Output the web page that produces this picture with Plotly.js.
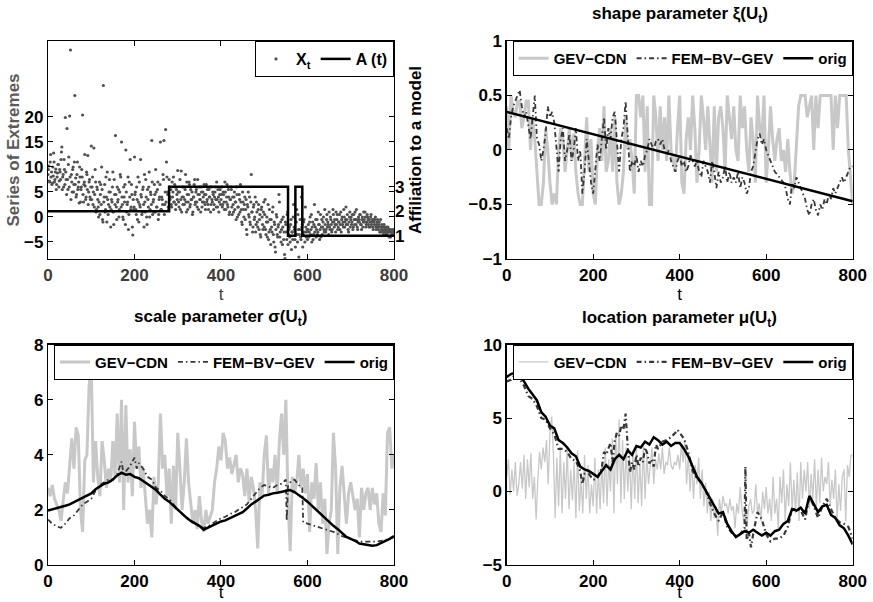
<!DOCTYPE html>
<html><head><meta charset="utf-8">
<script src="https://cdn.plot.ly/plotly-3.0.1.min.js"></script>
<style>html,body{margin:0;padding:0;background:#fff}#plot{width:873px;height:602px}</style>
</head><body><div id="plot"></div><script>
// ---------- data ----------
// series of extremes X_t at even t (0,2,...,798)
const xtEven = [
 8.5,10.2,7.0,12.5,9.0,6.8,8.2,11.0,7.5,9.6, 6.5,8.8,10.5,7.2,9.0,11.5,14.0,8.0,6.0,9.5, 19.9,7.5,17.7,5.5,12.0,20.2,33.4,8.5,5.0,10.0, 6.5,24.3,7.8,4.5,11.0,6.0,2.8,8.0,5.5,9.5, 20.4,3.0,7.0,6.2,4.0,8.5,12.3,5.0,7.5,3.5,
 14.2,6.0,2.5,13.8,4.5,7.0,1.5,5.5,2.0,3.0, 0.5,6.5,10.0,-0.5,26.3,4.0,1.0,8.0,-1.0,3.5, 2.5,7.5,5.0,1.5,3.0,9.0,-1.5,4.5,16.3,2.0, 6.0,3.5,0.0,5.0,8.0,15.0,2.5,-0.5,4.0,6.5, 13.4,1.0,3.0,-2.5,7.0,11.5,2.0,4.5,-3.6,1.5,
 12.0,5.0,0.5,3.5,8.0,-1.0,2.5,11.5,4.0,1.0, 6.0,-2.0,3.0,7.5,0.0,5.5,2.0,9.0,1.5,4.5, 15.3,0.5,3.5,6.5,1.0,5.0,2.0,7.0,0.5,4.0, 15.0,1.5,3.5,8.5,15.3,2.5,17.5,11.0,5.0,2.0, 7.5,3.5,5.5,2.0,4.0,8.0,3.0,6.0,2.5,4.5,
 9.3,3.0,5.0,1.5,9.2,4.0,2.5,6.0,3.5,8.5, 1.0,4.5,3.0,7.0,2.0,5.5,3.5,0.5,4.0,6.5, 2.5,5.0,3.0,7.5,1.5,4.5,3.5,6.0,2.0,5.0, 3.0,4.5,1.5,6.5,3.5,2.5,5.5,4.0,1.0,6.0, 3.0,4.5,2.5,5.0,3.5,7.0,2.0,4.0,3.0,5.5,
 3.5,6.0,2.5,4.5,1.5,5.0,3.0,6.5,2.0,4.0, 1.0,3.5,5.5,0.5,2.5,4.0,1.5,3.0,6.0,0.0, 2.0,4.5,1.0,3.0,-1.0,5.0,1.5,2.5,-0.5,3.5, -3.5,2.0,0.5,4.0,-1.5,8.5,1.0,-2.0,2.5,0.0, -3.0,3.0,-1.0,1.5,-2.5,0.5,-4.0,2.0,-1.5,1.0,
 -2.0,3.5,-3.5,0.0,-1.0,-4.5,1.5,-2.5,-0.5,-3.0, 2.0,-5.0,-1.5,-7.0,0.5,-3.5,-2.0,4.5,-4.0,-1.0, -2.5,-5.5,0.0,-3.0,-8.3,-1.5,-4.5,1.0,-3.5,-2.0, -5.0,-0.5,-3.0,-4.5,2.5,-2.5,-6.0,-1.0,-3.5,0.5, -8.0,-2.5,-4.0,4.0,-1.5,-3.5,-0.5,-5.0,-2.0,-3.0,
 -4.5,-1.5,-3.0,0.0,-2.5,-5.0,-1.0,-3.5,2.5,-2.0, -4.0,-0.5,-3.0,-1.5,-4.5,0.5,-2.0,-3.5,-1.0,-2.5, 1.5,-3.0,-0.5,-2.0,-1.5,1.0,-2.5,-0.5,-3.0,-1.0, 0.5,-2.0,-1.5,1.0,-0.5,-2.5,-1.0,0.5,-1.5,-3.0, 0.0,-1.0,1.5,-2.0,-0.5,-1.5,0.5,-2.5,-1.0,1.0,
 -0.5,-1.5,0.5,-2.0,-0.5,1.0,-1.5,-0.5,-2.5,0.0, -1.0,0.5,-1.5,-0.5,-2.0,1.0,-1.0,0.0,-1.5,0.5, -0.5,-2.0,-1.0,0.0,-1.5,-0.5,-2.5,-1.0,-0.5,-2.0, -1.5,-0.5,-2.5,-1.0,-2.0,-3.0,-1.5,-2.5,-3.5,-2.0, -3.0,-2.5,-3.5,-2.0,-3.0,-2.5,-4.0,-3.0,-3.5,-2.5
];
// series of extremes X_t at odd t (1,3,...,799)
const xtOdd = [
 9.5,7.2,11.0,8.0,6.5,10.0,12.8,7.0,9.0,5.5, 8.0,10.5,6.0,9.5,7.5,13.0,5.5,8.5,11.5,6.5, 9.0,4.5,7.5,10.5,6.0,8.0,3.5,7.0,9.5,5.0, 11.0,6.5,4.0,8.5,5.5,7.0,10.0,3.0,6.0,8.0, 4.5,6.5,12.5,3.5,9.0,5.5,2.5,7.0,4.0,6.0,
 3.5,8.0,5.0,2.0,9.5,1.0,6.0,3.5,0.0,7.0, 4.5,2.5,5.5,-1.0,3.0,6.5,1.5,4.0,9.0,0.5, 5.0,2.0,-2.0,3.5,6.0,1.0,7.5,2.5,4.5,-0.5, 3.0,5.5,1.5,8.5,2.0,4.0,0.0,6.0,3.0,-1.5, 5.0,2.5,8.0,0.5,4.0,1.5,6.5,-2.0,3.5,2.0,
 4.5,1.5,6.0,-0.5,3.0,7.0,2.0,4.5,0.5,5.5, 2.5,8.5,1.0,4.0,-1.5,3.5,6.0,0.0,5.0,2.5, 7.0,3.0,1.0,4.5,9.5,2.0,5.5,-0.5,3.5,6.5, 1.5,4.0,2.5,7.5,0.5,5.0,3.0,8.0,4.5,1.5, 6.0,4.0,2.5,7.0,5.0,3.0,6.5,1.5,5.5,3.5,
 5.0,2.0,7.5,3.5,1.0,6.0,4.0,2.5,5.5,3.0, 7.0,1.5,4.5,6.5,2.5,3.5,5.0,1.0,4.0,7.5, 3.0,5.5,2.0,4.5,6.0,3.5,1.0,5.0,3.0,4.0, 6.5,2.5,4.5,3.0,5.5,1.5,4.0,6.0,2.5,3.5, 5.0,1.5,4.0,6.0,2.0,3.5,5.5,1.0,4.5,2.5,
 4.5,2.0,5.0,3.0,7.0,1.5,4.0,2.5,5.5,0.5, 3.5,6.0,2.0,4.0,1.0,5.0,3.0,-0.5,4.5,2.0, 0.5,3.5,6.5,1.5,-1.5,3.0,0.0,4.0,1.5,-2.5, 2.5,5.0,0.0,-1.0,3.0,1.0,-3.0,2.0,-0.5,4.0, -1.5,1.0,-2.0,2.5,-0.5,-3.5,1.5,0.0,-2.5,3.0,
 0.5,-2.5,-1.0,-4.0,2.5,-3.0,-0.5,-5.5,-2.0,1.0, -3.5,-1.0,-6.0,-2.5,0.0,-4.0,-1.5,3.0,-3.0,-5.0, -0.5,-2.0,-4.5,-7.5,-1.0,-3.0,0.5,-5.5,-2.5,-4.0, -1.5,-6.5,-3.0,0.0,-2.0,-4.5,-3.5,1.5,-5.0,-2.5, -3.5,-0.5,-4.5,-2.0,-6.0,-1.0,-3.0,2.0,-4.0,-2.5,
 -2.5,-4.0,-1.0,-3.5,0.5,-2.0,-4.5,-1.5,-3.0,-0.5, -2.5,-3.5,1.0,-1.5,-2.5,-4.0,-0.5,-2.0,0.0,-3.0, -1.5,-2.5,0.5,-1.0,-3.5,-2.0,0.0,-1.5,-2.5,1.5, -1.0,-0.5,-3.0,-1.5,0.5,-2.0,-1.0,-2.5,1.0,-0.5, -1.5,-2.0,0.0,-1.0,2.0,-0.5,-1.5,-3.0,0.0,-2.0,
 0.0,-1.0,-2.5,0.5,-1.5,-0.5,1.5,-2.0,-1.0,-0.5, 0.5,-1.5,-2.5,0.0,-1.0,-0.5,1.0,-2.0,-1.0,0.0, -1.5,-0.5,-2.0,0.5,-1.0,-2.0,-0.5,-1.5,0.0,-2.5, -1.0,-2.0,-1.5,-3.0,-0.5,-2.5,-2.0,-3.0,-1.5,-2.5, -3.5,-2.0,-3.0,-2.5,-4.0,-3.0,-2.5,-3.5,-3.0,-3.5
];
// affiliation A(t): change points and model index
const affT = [0, 280, 555, 572, 588, 800];
const affV = [2, 3, 1, 3, 1, 1];

// shape parameter (t = 0,5,...,800)
const shapeCDN = [
 0.4,0.0,0.5,0.35,0.3,0.45,0.45,0.2,0.3,0.45, 0.45,0.0,0.3,0.1,-0.2,-0.5,-0.5,-0.3,0.2,0.0,
 -0.3,-0.5,-0.4,-0.5,0.0,0.2,0.1,-0.2,0.0,0.2, -0.1,0.15,-0.2,-0.4,-0.5,-0.5,-0.1,0.3,-0.2,0.1,
 -0.4,-0.5,0.0,0.2,-0.1,0.4,-0.2,-0.1,0.2,-0.2, 0.3,-0.3,-0.5,-0.4,-0.2,0.3,0.0,0.1,-0.1,-0.4,
 0.5,0.5,0.3,0.5,-0.2,0.4,-0.5,-0.5,0.5,0.3, -0.1,0.4,0.0,0.3,-0.1,0.5,0.0,-0.1,-0.2,0.2,
 0.5,-0.3,-0.4,0.1,0.3,0.0,0.5,0.2,-0.3,0.0, 0.5,0.3,0.0,0.4,0.0,-0.3,0.4,-0.2,0.3,0.4,
 0.2,-0.2,0.5,0.3,0.1,0.4,0.0,-0.1,0.5,0.2, 0.4,0.0,-0.2,0.3,0.1,-0.3,0.5,0.2,0.1,0.5,
 -0.3,0.0,0.4,0.1,-0.1,0.1,0.2,-0.1,0.0,-0.2, 0.1,-0.2,-0.4,-0.3,0.0,0.4,0.5,0.5,0.5,0.3,
 0.4,0.5,0.0,0.5,0.2,0.5,0.5,0.5,0.5,0.5, 0.5,0.0,0.5,0.2,0.5,0.5,0.5,0.5,0.0,-0.3,
 -0.5
];
const shapeFEM = [
 0.2,0.1,0.3,0.4,0.45,0.5,0.55,0.4,0.3,0.35, 0.2,0.1,0.3,0.5,0.1,0.05,-0.1,0.0,0.15,0.4,
 0.3,0.35,0.25,0.0,-0.2,0.1,0.2,-0.1,0.0,0.15, -0.1,0.0,0.2,-0.1,0.0,-0.4,-0.2,0.1,-0.1,-0.3,
 -0.4,-0.2,0.05,-0.1,0.1,0.3,0.0,0.2,0.1,0.3, 0.35,0.1,-0.2,0.1,0.2,0.45,0.1,-0.2,-0.1,-0.15,
 -0.05,-0.2,-0.1,-0.15,-0.05,0.0,0.1,0.05,0.0,0.08, 0.1,0.05,0.1,0.0,-0.05,0.0,-0.1,-0.15,-0.2,-0.1,
 -0.05,-0.15,-0.1,-0.2,-0.15,-0.05,-0.1,-0.15,-0.1,-0.2, -0.25,-0.1,-0.15,-0.2,-0.3,-0.1,-0.2,-0.35,-0.2,-0.3,
 -0.25,-0.15,-0.3,-0.2,-0.3,-0.25,-0.3,-0.2,-0.35,-0.25, -0.3,-0.4,-0.35,-0.2,-0.15,0.0,0.1,0.15,0.05,0.1,
 0.0,-0.05,-0.1,-0.15,-0.2,-0.22,-0.25,-0.28,-0.3,-0.35, -0.45,-0.5,-0.3,-0.35,-0.25,-0.3,-0.35,-0.4,-0.45,-0.55,
 -0.6,-0.5,-0.45,-0.55,-0.6,-0.5,-0.55,-0.45,-0.5,-0.4, -0.45,-0.35,-0.4,-0.35,-0.3,-0.25,-0.3,-0.25,-0.2,-0.15,
 -0.15
];
const shapeOrigT = [0, 800];
const shapeOrig = [0.35, -0.47];

// scale parameter
const scaleCDN = [ // t = 0,5,...,800
 2.8,2.5,2.9,2.4,2.2,2.0,1.6,2.4,3.0,2.6, 3.7,4.6,3.5,5.0,4.7,2.0,1.2,3.8,4.0,6.5,
 7.2,3.0,4.5,3.2,2.5,4.5,3.8,2.8,3.5,3.0, 4.5,3.2,5.5,3.0,6.0,2.0,5.8,3.0,4.2,2.5,
 5.2,3.5,4.3,2.8,3.5,2.5,1.5,2.0,1.0,3.2, 2.2,3.0,5.5,3.5,4.0,2.5,3.5,1.5,3.6,2.0,
 4.8,3.5,2.0,3.0,4.6,3.0,2.2,1.5,2.0,1.3, 2.5,1.6,1.2,2.0,1.5,1.8,2.0,3.0,3.5,4.3,
 3.8,4.8,4.5,3.5,3.9,3.3,3.6,4.0,3.0,3.5, 3.3,2.5,3.5,2.3,3.2,2.8,2.0,0.6,3.0,2.5,
 4.0,4.7,2.6,3.5,3.0,4.0,2.6,4.5,5.5,4.0, 6.0,2.3,0.5,3.2,2.6,3.0,4.0,2.8,3.5,2.6,
 3.3,1.2,3.0,2.4,3.7,2.0,3.0,1.5,2.4,0.4, 1.5,2.0,4.8,3.5,0.4,2.8,3.6,2.5,1.5,2.6,
 3.0,2.5,2.0,2.4,1.0,2.8,2.0,2.6,2.8,2.0, 2.8,2.2,2.6,1.5,1.2,2.6,1.8,4.8,5.0,3.5,
 4.0
];
const scaleFEMT = [0,10,20,30,40,50,60,70,80,90,100,110,120,130,140,150,160,170,175,180,190,200,205,210,220,230,240,250,260,270,280,290,300,310,320,330,340,350,360,370,380,390,400,410,420,430,440,450,460,470,480,490,500,510,520,530,540,550,552,555,560,570,580,588,590,600,620,640,660,680,700,720,740,760,780,800];
const scaleFEM = [1.65,1.5,1.4,1.35,1.5,1.7,1.8,2.0,2.2,2.3,2.4,2.7,2.9,3.0,3.1,3.1,3.3,3.75,3.3,3.4,3.6,3.9,3.5,3.7,3.5,3.2,3.1,2.8,2.7,2.5,2.4,2.2,2.0,1.85,1.7,1.6,1.5,1.4,1.35,1.4,1.5,1.6,1.7,1.75,1.85,1.9,2.0,2.1,2.2,2.4,2.6,2.8,2.9,2.85,2.8,2.9,2.95,3.1,1.6,2.9,3.0,3.1,2.9,2.8,1.55,1.5,1.4,1.3,1.2,1.05,0.95,0.85,0.85,0.85,0.9,1.0];
const scaleOrig = [ // t = 0,10,...,800
 1.98,2.02,2.05,2.1,2.15,2.2,2.28,2.35,2.45,2.5, 2.6,2.75,2.85,2.95,3.0,3.1,3.25,3.35,3.28,3.3,
 3.2,3.15,3.05,2.95,2.85,2.72,2.55,2.4,2.3,2.15, 2.0,1.85,1.72,1.6,1.5,1.42,1.28,1.35,1.42,1.5,
 1.58,1.62,1.7,1.78,1.85,1.92,2.05,2.2,2.3,2.42, 2.52,2.55,2.6,2.62,2.65,2.68,2.72,2.65,2.52,2.42,
 2.3,2.15,2.0,1.85,1.72,1.58,1.42,1.3,1.15,1.02, 0.95,0.88,0.78,0.75,0.72,0.7,0.72,0.8,0.85,0.95,
 1.05
];

// location parameter
const locCDN = [ // t = 0,4,...,800
 1.0,2.2,-0.2,1.5,0.0,2.0,-0.3,0.5,2.0,0.2, 2.5,-0.5,2.2,0.3,2.6,-0.5,1.0,-1.9,0.8,2.7, 1.5,3.0,2.0,3.5,0.5,
 4.0,5.1,2.6,-1.8,2.3,-1.0,3.0,-1.5,2.0,-0.5, 3.0,-1.2,1.5,-0.6,2.0,-1.8,2.8,-1.3,1.0,-1.5, 2.5,-0.5,1.8,-1.5,0.5,
 -1.0,2.3,-1.5,1.5,-1.2,2.0,-0.8,3.0,-1.0,2.2, 0.0,3.6,-1.5,4.0,0.5,4.9,-0.8,3.5,-0.5,3.0, 0.0,2.5,-1.2,2.8,-0.5,
 3.0,-0.8,2.0,-1.0,3.3,-0.5,2.5,0.5,1.8,3.0, 0.5,2.2,1.5,2.6,1.5,3.0,1.2,2.0,1.8,3.0, 1.8,1.5,2.0,1.8,2.5,
 1.5,3.3,2.0,3.5,0.5,2.5,0.0,2.0,-0.5,1.8, 0.5,2.3,-0.5,1.5,-1.0,0.6,-1.5,0.0,-2.0,-0.5, -1.8,-1.0,-3.0,-0.5,-1.5,
 -0.3,-1.0,-0.8,-1.5,-0.5,-1.3,-1.0,-2.5,-0.8,-1.5, 0.3,-1.2,-2.0,-1.0,-2.2,-1.0,-0.5,-1.5,-1.3,0.5, -1.5,-0.8,-2.0,0.0,-1.2,
 0.3,-1.5,-0.5,-2.0,1.0,-1.5,-0.5,-2.5,1.0,-0.8, 1.5,-2.0,0.5,-1.0,2.0,-1.2,0.8,-1.5,1.3,-2.0, 2.0,-0.5,1.5,0.0,2.0,
 -1.2,1.2,-0.5,2.2,-1.0,1.5,-0.8,2.3,0.0,1.0, 0.5,2.0,-1.0,0.8,-0.5,1.5,-2.0,0.5,-1.3,1.0, 1.5,-2.0,1.8,1.0,2.5,
 2.4
];
const locFEMT = [0,10,20,30,40,50,60,70,80,90,100,110,120,130,140,150,160,170,175,180,190,200,210,220,225,230,240,245,250,255,260,265,270,275,280,285,290,295,300,305,310,315,320,325,330,335,340,345,350,360,370,380,390,395,400,410,420,430,440,450,460,470,480,490,500,510,520,530,540,550,552,555,560,565,570,580,590,600,610,620,630,640,650,660,670,680,690,700,710,720,730,740,750,760,770,780,790,800];
const locFEM = [7.5,7.6,8.0,7.7,7.2,6.5,6.3,5.8,5.0,4.9,4.3,3.9,2.9,2.9,2.7,2.2,2.1,1.4,0.5,1.2,1.2,0.8,0.9,1.6,2.7,2.5,3.3,2.0,3.5,4.0,3.8,4.5,4.2,5.3,3.0,1.3,2.0,1.5,2.5,1.7,2.3,2.0,3.0,2.6,1.9,2.2,1.7,3.2,2.9,3.4,3.5,3.7,4.0,4.2,4.0,3.6,2.7,1.4,0.9,0.6,0.1,-0.8,-1.5,-2.0,-1.4,-2.4,-2.8,-3.0,-2.9,-2.5,1.7,-3.3,-2.8,-3.8,-2.9,-1.4,-1.9,-2.9,-3.4,-3.2,-3.2,-3.0,-2.4,-1.2,-1.2,-1.3,-1.9,-0.3,-1.0,-1.8,-1.0,-0.5,-1.2,-1.8,-2.1,-2.2,-2.4,-3.2];
const locOrig = [ // t = 0,10,...,800
 7.8,8.0,8.1,7.9,7.5,7.0,6.6,6.2,5.4,5.1, 4.5,4.3,3.5,3.3,3.0,2.6,2.4,1.7,1.5,1.4,
 1.2,1.0,1.4,1.8,1.5,2.2,2.5,2.2,2.8,2.5, 3.1,3.0,3.4,3.2,3.7,3.5,3.2,3.4,3.1,3.3,
 3.3,2.9,2.4,1.7,1.0,0.6,0.1,-0.4,-1.0,-1.5, -1.4,-2.2,-2.7,-3.1,-2.9,-2.7,-2.8,-2.6,-2.8,-3.0,
 -2.8,-3.0,-2.7,-2.6,-2.2,-2.0,-1.2,-1.3,-1.1,-1.5, -0.3,-0.8,-1.4,-1.0,-0.9,-1.6,-1.8,-2.3,-2.5,-3.0,
 -3.6
];
const xTicks = [0, 200, 400, 600, 800];

// ---------- helpers ----------
function idx(n, step, start){ const a=[]; for(let i=0;i<n;i++) a.push((start||0)+i*step); return a; }
const F = 'Liberation Sans, Arial, sans-serif';
const C_CDN = '#c8c8c8', C_FEM = '#383838', C_ORIG = '#000000';
const FEM_DASH = '5px,3px,1.5px,3px';

const dom = {
  xL:[0.0550,0.4513], xR:[0.5804,0.9767],
  yT:[0.5698,0.9319], yB:[0.0615,0.4275]
};

function xax(d, anchor, tickColor){
  return {domain:d, anchor:anchor, range:[0,800], tickvals:xTicks,
    showline:true, linecolor:'#000', linewidth:1.2, mirror:'ticks',
    ticks:'inside', ticklen:5, tickwidth:1, tickcolor:'#000',
    showgrid:false, zeroline:false, fixedrange:true, automargin:false,
    tickfont:{family:F,size:17,weight:'bold',color:tickColor||'#000'},
    title:{text:'t', font:{family:F,size:17,color:tickColor||'#000'}, standoff:0}};
}
function yax(d, anchor, range, tickvals){
  return {domain:d, anchor:anchor, range:range, tickvals:tickvals,
    showline:true, linecolor:'#000', linewidth:1.2, mirror:'ticks',
    ticks:'inside', ticklen:5, tickwidth:1, tickcolor:'#000',
    showgrid:false, zeroline:false, fixedrange:true, automargin:false,
    tickfont:{family:F,size:17,weight:'bold',color:'#000'}};
}
function leg(x, y, size){
  return {x:x, y:y, xref:'paper', yref:'paper', xanchor:'right', yanchor:'top',
    orientation:'h', bgcolor:'#fff', bordercolor:'#000', borderwidth:1,
    font:{family:F,size:size,weight:'bold',color:'#000'}, itemwidth:30,
    traceorder:'normal', tracegroupgap:0};
}

// ---------- traces ----------
const traces = [
  {x:idx(xtEven.length,2,0).concat(idx(xtOdd.length,2,1)), y:xtEven.concat(xtOdd), type:'scatter', mode:'markers', name:'X<sub>t</sub>',
   marker:{size:3.2, color:'#505050'}, xaxis:'x', yaxis:'y', legend:'legend'},
  {x:affT, y:affV, type:'scatter', mode:'lines', name:'A (t)', line:{shape:'hv', color:'#000', width:2.5},
   xaxis:'x', yaxis:'y2', legend:'legend'},

  {x:idx(shapeCDN.length,5), y:shapeCDN, type:'scatter', mode:'lines', name:'GEV\u2212CDN',
   line:{color:C_CDN, width:3}, xaxis:'x3', yaxis:'y3', legend:'legend2'},
  {x:idx(shapeFEM.length,5), y:shapeFEM, type:'scatter', mode:'lines', name:'FEM\u2212BV\u2212GEV',
   line:{color:C_FEM, width:1.8, dash:FEM_DASH}, xaxis:'x3', yaxis:'y3', legend:'legend2'},
  {x:shapeOrigT, y:shapeOrig, type:'scatter', mode:'lines', name:'orig',
   line:{color:C_ORIG, width:2.5}, xaxis:'x3', yaxis:'y3', legend:'legend2'},

  {x:idx(scaleCDN.length,5), y:scaleCDN, type:'scatter', mode:'lines', name:'GEV\u2212CDN',
   line:{color:C_CDN, width:3}, xaxis:'x4', yaxis:'y4', legend:'legend3'},
  {x:scaleFEMT, y:scaleFEM, type:'scatter', mode:'lines', name:'FEM\u2212BV\u2212GEV',
   line:{color:C_FEM, width:1.8, dash:FEM_DASH}, xaxis:'x4', yaxis:'y4', legend:'legend3'},
  {x:idx(scaleOrig.length,10), y:scaleOrig, type:'scatter', mode:'lines', name:'orig',
   line:{color:C_ORIG, width:2.5}, xaxis:'x4', yaxis:'y4', legend:'legend3'},

  {x:idx(locCDN.length,4), y:locCDN, type:'scatter', mode:'lines', name:'GEV\u2212CDN',
   line:{color:C_CDN, width:1.3}, xaxis:'x5', yaxis:'y5', legend:'legend4'},
  {x:locFEMT, y:locFEM, type:'scatter', mode:'lines', name:'FEM\u2212BV\u2212GEV',
   line:{color:C_FEM, width:2.2, dash:FEM_DASH}, xaxis:'x5', yaxis:'y5', legend:'legend4'},
  {x:idx(locOrig.length,10), y:locOrig, type:'scatter', mode:'lines', name:'orig',
   line:{color:C_ORIG, width:2.5}, xaxis:'x5', yaxis:'y5', legend:'legend4'}
];

// ---------- layout ----------
const yLeft = yax(dom.yT, 'x', [-8.4, 35.2], [-5,0,5,10,15,20]);
yLeft.title = {text:'Series of Extremes', font:{family:F,size:17,weight:'bold',color:'#5a5a5a'}, standoff:0};
const yRight = {overlaying:'y', side:'right', anchor:'x', range:[0.05,8.95], tickvals:[1,2,3],
  showline:false, ticks:'inside', ticklen:5, tickwidth:1, tickcolor:'#000',
  showgrid:false, zeroline:false, fixedrange:true, automargin:false,
  tickfont:{family:F,size:17,weight:'bold',color:'#000'},
  title:{text:'Affiliation to a model', font:{family:F,size:17,weight:'bold',color:'#000'}, standoff:5}};

const titleFont = {family:F, size:17, weight:'bold', color:'#000'};
const layout = {
  width:873, height:602, margin:{l:0,r:0,t:0,b:0},
  paper_bgcolor:'#fff', plot_bgcolor:'#fff', showlegend:true,
  xaxis: xax(dom.xL,'y','#3c3c3c'), yaxis: yLeft, yaxis2: yRight,
  xaxis3: xax(dom.xR,'y3'), yaxis3: yax(dom.yT,'x3',[-1,1],[-1,-0.5,0,0.5,1]),
  xaxis4: xax(dom.xL,'y4'), yaxis4: yax(dom.yB,'x4',[0,8],[0,2,4,6,8]),
  xaxis5: xax(dom.xR,'y5'), yaxis5: yax(dom.yB,'x5',[-5,10],[-5,0,5,10]),
  legend: leg(dom.xL[1], dom.yT[1], 16),
  legend2: leg(dom.xR[1], dom.yT[1], 15),
  legend3: leg(dom.xL[1], dom.yB[1], 15),
  legend4: leg(dom.xR[1], dom.yB[1], 15),
  annotations:[
    {text:'shape parameter \u03be(U<sub>t</sub>)', x:(dom.xR[0]+dom.xR[1])/2, y:0.975, xref:'paper', yref:'paper', showarrow:false, xanchor:'center', yanchor:'middle', font:titleFont},
    {text:'scale parameter \u03c3(U<sub>t</sub>)', x:(dom.xL[0]+dom.xL[1])/2, y:0.472, xref:'paper', yref:'paper', showarrow:false, xanchor:'center', yanchor:'middle', font:titleFont},
    {text:'location parameter \u03bc(U<sub>t</sub>)', x:(dom.xR[0]+dom.xR[1])/2, y:0.470, xref:'paper', yref:'paper', showarrow:false, xanchor:'center', yanchor:'middle', font:titleFont}
  ]
};

Plotly.newPlot('plot', traces, layout, {displayModeBar:false, staticPlot:true});
</script></body></html>
